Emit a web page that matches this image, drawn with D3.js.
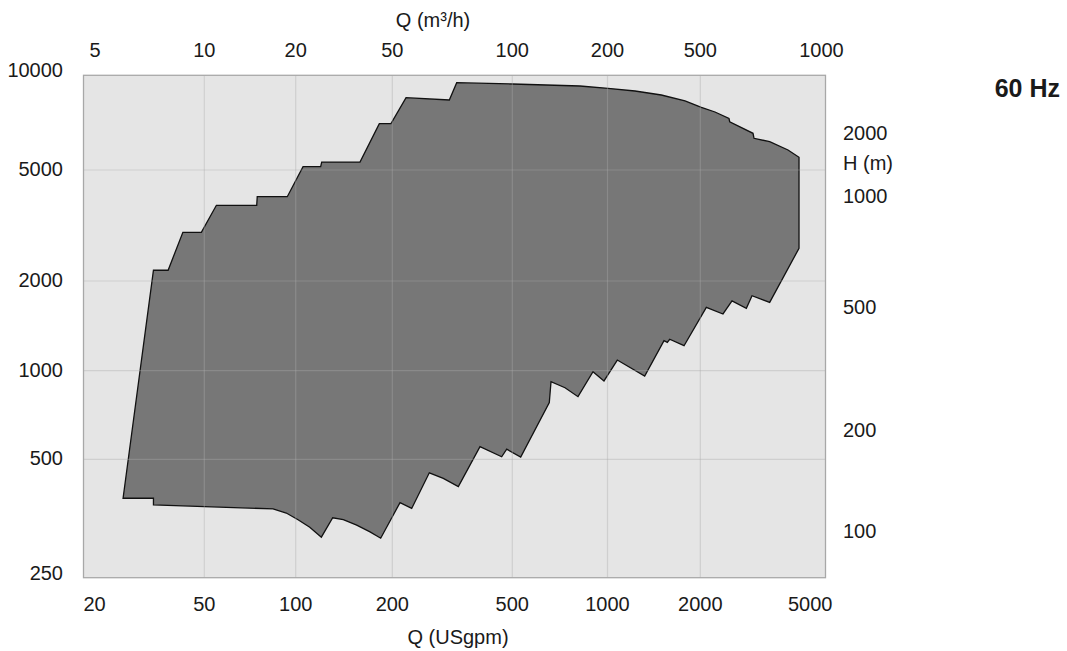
<!DOCTYPE html>
<html>
<head>
<meta charset="utf-8">
<script src="https://cdn.jsdelivr.net/npm/d3@7"></script>
<style>
  body { margin: 0; background: #fff; }
  svg text { font-family: "Liberation Sans", Arial, sans-serif; fill: #1a1a1a; }
</style>
</head>
<body>
<svg id="chart" width="1067" height="651"></svg>
<script>
// bottom axis Q (USgpm), left axis H (ft)
var qTicks = [20, 50, 100, 200, 500, 1000, 2000, 5000];
var qTicksM3h = [5, 10, 20, 50, 100, 200, 500, 1000];
var hTicks = [250, 500, 1000, 2000, 5000, 10000];
var hTicksM = [2000, 1000, 500, 200, 100];

// upper boundary of the range, left to right
var upperQ = [34.0, 38.0, 42.5, 48.9, 54.8, 74.4, 74.7, 93.8, 105.4, 119.6, 120.5, 158.6, 182.2, 198.1,
              222.1, 309.1, 327.0, 500, 818, 1004, 1228, 1495, 1784, 2015, 2227, 2467, 2480, 2941, 2963,
              3323, 3800, 4119];
var upperH = [2185, 2185, 2990, 2990, 3736, 3736, 4011, 4011, 5122, 5122, 5300, 5300, 7020, 7020,
              8488, 8346, 9473, 9383, 9246, 9092, 8915, 8657, 8286, 7912, 7645, 7289, 7120, 6541, 6306,
              6151, 5788, 5487];

// lower boundary, left to right
var lowerQ = [27.0, 34.0, 34.0, 84.2, 93.1, 101.7, 110.6, 120.2, 130.4, 140.7, 154.9, 170.4, 184.0,
              212.1, 231.9, 265.3, 295.2, 331.1, 390.7, 461.1, 479.1, 531.5, 654.6, 662.8, 733.9, 806.7,
              899.8, 974.7, 1076, 1320, 1525, 1563, 1591, 1771, 2090, 2361, 2522, 2801, 2920, 3323, 4119];
var lowerH = [398, 398, 383, 374, 365, 351, 336, 317, 355, 351, 340, 327, 315,
              388, 375, 462, 447, 426, 552, 510, 541, 509, 779, 918, 875, 816,
              992, 923, 1086, 959, 1261, 1245, 1275, 1213, 1632, 1550, 1714, 1620, 1785, 1696, 2620];

var FT_PER_M = 1 / 0.3048;

var svg = d3.select('#chart');
var pL = 83.5, pR = 825.5, pT = 75.3, pB = 577.7;
var W = pR - pL, H = pB - pT;

// the printed grid is not quite evenly spaced, so the log scales are piecewise
var x = d3.scaleLog()
  .domain(qTicks)
  .range([0, 0.1628, 0.2860, 0.4162, 0.5779, 0.7062, 0.8313, 1].map(function(f){ return pL + f * W; }));
var y = d3.scaleLog()
  .domain(hTicks)
  .range([1, 0.7643, 0.5880, 0.4094, 0.1885, 0].map(function(f){ return pT + f * H; }));

// plot background
svg.append('rect')
  .attr('x', pL).attr('y', pT).attr('width', W).attr('height', H)
  .attr('fill', '#e5e5e5');

// operating range polygon
var pts = [];
upperQ.forEach(function(q, i){ pts.push([q, upperH[i]]); });
for (var i = lowerQ.length - 1; i >= 0; i--) pts.push([lowerQ[i], lowerH[i]]);

var line = d3.line()
  .x(function(d){ return x(d[0]); })
  .y(function(d){ return y(d[1]); });

svg.append('path')
  .attr('d', line(pts) + 'Z')
  .attr('fill', '#777777')
  .attr('stroke', '#111')
  .attr('stroke-width', 1.3)
  .attr('stroke-linejoin', 'miter');

// grid on top, half transparent so it shows on both fills
var grid = svg.append('g').attr('stroke', '#aaaaaa').attr('stroke-opacity', 0.38).attr('stroke-width', 1.2);
grid.selectAll('line.v')
  .data(qTicks.slice(1, -1))
  .enter().append('line')
  .attr('x1', function(d){ return x(d); }).attr('x2', function(d){ return x(d); })
  .attr('y1', pT).attr('y2', pB);
grid.selectAll('line.h')
  .data(hTicks.slice(1, -1))
  .enter().append('line')
  .attr('y1', function(d){ return y(d); }).attr('y2', function(d){ return y(d); })
  .attr('x1', pL).attr('x2', pR);

svg.append('rect')
  .attr('x', pL).attr('y', pT).attr('width', W).attr('height', H)
  .attr('fill', 'none').attr('stroke', '#a8a8a8').attr('stroke-width', 1.3);

var fs = 20;

// bottom tick labels
svg.append('g').selectAll('text')
  .data(qTicks)
  .enter().append('text')
  .attr('font-size', fs)
  .attr('x', function(d, i){
    if (i == 0) return x(d);
    if (i == qTicks.length - 1) return x(d) + 7;
    return x(d);
  })
  .attr('y', 611)
  .attr('text-anchor', function(d, i){
    if (i == 0) return 'start';
    if (i == qTicks.length - 1) return 'end';
    return 'middle';
  })
  .text(function(d){ return d; });

svg.append('text').attr('font-size', fs)
  .attr('x', 458).attr('y', 644).attr('text-anchor', 'middle')
  .text('Q (USgpm)');

// top tick labels, printed at the same grid positions
svg.append('g').selectAll('text')
  .data(qTicksM3h)
  .enter().append('text')
  .attr('font-size', fs)
  .attr('x', function(d, i){
    if (i == 0) return x(qTicks[i]) + 6;
    if (i == qTicksM3h.length - 1) return x(qTicks[i]) - 4;
    return x(qTicks[i]);
  })
  .attr('y', 57)
  .attr('text-anchor', function(d, i){ return i == 0 ? 'start' : 'middle'; })
  .text(function(d){ return d; });

svg.append('text').attr('font-size', fs)
  .attr('x', 433).attr('y', 27).attr('text-anchor', 'middle')
  .text('Q (m³/h)');

// left tick labels
svg.append('g').selectAll('text')
  .data(hTicks)
  .enter().append('text')
  .attr('font-size', fs)
  .attr('x', 63)
  .attr('y', function(d, i){
    var off = (i == 0 || i == hTicks.length - 1) ? -5 : -1;
    return y(d) + off;
  })
  .attr('dy', '0.35em')
  .attr('text-anchor', 'end')
  .text(function(d){ return d; });

// right tick labels in metres
svg.append('g').selectAll('text')
  .data(hTicksM)
  .enter().append('text')
  .attr('font-size', fs)
  .attr('x', 843)
  .attr('y', function(d){
    var yy = y(d * FT_PER_M);
    if (d == 1000) yy -= 25; // the source prints it higher, under the unit
    if (d == 200) yy += 5;
    return yy;
  })
  .attr('dy', '0.35em')
  .text(function(d){ return d; });

svg.append('text').attr('font-size', fs)
  .attr('x', 843).attr('y', 163).attr('dy', '0.35em')
  .text('H (m)');

svg.append('text')
  .attr('font-size', 25).attr('font-weight', 'bold')
  .attr('x', 1060).attr('y', 97).attr('text-anchor', 'end')
  .text('60 Hz');
</script>
</body>
</html>
